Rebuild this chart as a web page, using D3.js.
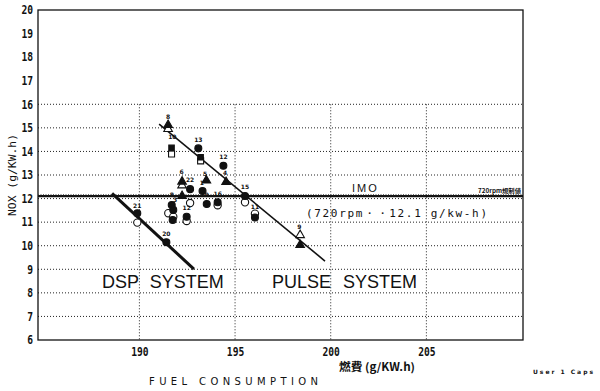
<!DOCTYPE html>
<html>
<head>
<meta charset="utf-8">
<script src="https://cdn.jsdelivr.net/npm/d3@7"></script>
<style>
body{margin:0;background:#fff;}
svg{display:block;}
</style>
</head>
<body>
<script>
// fuel consumption (g/kWh) vs NOx (g/kWh)
var yTicks=[6,7,8,9,10,11,12,13,14,15,16,17,18,19,20];
var xTicks=[190,195,200,205];
var gridY=[7,8,9,10,11,12,13,14,15,16];
var imoLimit=12.1;

var filledCircles=[[193.08,14.13],[194.39,13.39],[193.3,12.32],[192.65,12.40],[195.52,12.11],[194.09,11.84],[193.52,11.77],[196.04,11.20],[191.69,11.73],[191.77,11.52],[191.74,11.09],[192.47,11.23],[189.89,11.38],[191.41,10.15]];
var openCircles=[[195.52,11.84],[194.09,11.72],[192.65,11.81],[191.51,11.38],[191.77,11.23],[192.47,11.05],[189.89,10.98],[196.04,11.36]];
var filledTriangles=[[191.5,15.12],[194.53,12.70],[193.5,12.77],[192.23,12.72],[192.23,12.11],[198.4,10.03]];
var openTriangles=[[191.5,14.95],[192.23,12.56],[198.4,10.45]];
var filledSquares=[[191.68,14.15],[193.2,13.75]];
var openSquares=[[191.68,13.89],[193.2,13.6]];
var pointLabels=[["8",191.5,15.45],["10",191.72,14.6],["13",193.08,14.49],["12",194.39,13.78],["4",194.48,13.08],["5",193.43,13.06],["1",193.26,12.68],["22",192.65,12.79],["6",192.21,13.14],["15",195.52,12.49],["16",194.09,12.19],["9",193.52,12.15],["8",191.69,12.15],["3",191.86,11.94],["12",192.47,11.59],["11",196.04,11.66],["21",189.89,11.69],["20",191.41,10.48],["9",198.36,10.78]];
var pulseLine=[[191.03,15.16],[199.7,9.35]];
var dspLine=[[188.57,12.22],[192.85,9.01]];

var W=600,H=391;
var svg=d3.select("body").append("svg").attr("width",W).attr("height",H);

var x=d3.scaleLinear().domain([184.7,210.05]).range([38,523]);
var y=d3.scaleLinear().domain([6,20]).range([340,10]);

// grid
svg.append("g").selectAll("line").data(gridY).enter().append("line")
	.attr("x1",x.range()[0]).attr("x2",x.range()[1])
	.attr("y1",function(d){return y(d);}).attr("y2",function(d){return y(d);})
	.attr("stroke","#222").attr("stroke-width",1).attr("stroke-dasharray","1,2");
svg.append("g").selectAll("line").data(xTicks).enter().append("line")
	.attr("x1",function(d){return x(d);}).attr("x2",function(d){return x(d);})
	.attr("y1",y(16)).attr("y2",y(6))
	.attr("stroke","#222").attr("stroke-width",1).attr("stroke-dasharray","1,2");

// frame
svg.append("rect").attr("x",x.range()[0]).attr("y",y(20))
	.attr("width",x.range()[1]-x.range()[0]).attr("height",y(6)-y(20))
	.attr("fill","none").attr("stroke","#111").attr("stroke-width",1.3);

// axes
var yAxis=svg.append("g").attr("transform","translate("+(x.range()[0]-3)+",0)")
	.call(d3.axisLeft(y).tickValues(yTicks).tickSize(0).tickPadding(2));
var xAxis=svg.append("g").attr("transform","translate(0,"+(y(6)+5)+")")
	.call(d3.axisBottom(x).tickValues(xTicks).tickSize(0).tickPadding(2));
[yAxis,xAxis].forEach(function(a){
	a.select(".domain").remove();
	a.selectAll("text").attr("font-family","DejaVu Sans Mono").attr("font-size",12)
		.attr("font-weight","bold").attr("fill","#111")
		.attr("textLength",function(){return this.textContent.length*5.8;})
		.attr("lengthAdjust","spacingAndGlyphs");
});

// IMO limit
svg.append("line").attr("x1",x.range()[0]).attr("x2",x.range()[1])
	.attr("y1",y(imoLimit)).attr("y2",y(imoLimit))
	.attr("stroke","#111").attr("stroke-width",2.2);
svg.append("line").attr("x1",x.range()[0]).attr("x2",x.range()[1])
	.attr("y1",y(imoLimit)-1.5).attr("y2",y(imoLimit)-1.5)
	.attr("stroke","#444").attr("stroke-width",1).attr("stroke-dasharray","1,1.5");
svg.append("text").attr("x",352).attr("y",192).text("IMO")
	.attr("font-family","Liberation Sans").attr("font-size",11).attr("letter-spacing",2).attr("fill","#111");
svg.append("text").attr("x",306).attr("y",217).text("(720rpm\u30fb\u30fb12.1 g/kw-h)")
	.attr("font-family","DejaVu Sans Mono").attr("font-size",11).attr("fill","#111")
	.attr("textLength",181).attr("lengthAdjust","spacing");
svg.append("text").attr("x",478).attr("y",193).text("720rpm\u898f\u5236\u5024")
	.attr("font-family","Noto Sans CJK JP").attr("font-size",6).attr("font-weight","bold").attr("fill","#111")
	.attr("textLength",43).attr("lengthAdjust","spacingAndGlyphs");

// trend lines
var line=d3.line().x(function(d){return x(d[0]);}).y(function(d){return y(d[1]);});
svg.append("path").datum(pulseLine).attr("d",line).attr("stroke","#111").attr("stroke-width",1.6).attr("fill","none");
svg.append("path").datum(dspLine).attr("d",line).attr("stroke","#111").attr("stroke-width",3).attr("fill","none");

// markers
function marks(data,type,filled,size){
	svg.append("g").selectAll("path").data(data).enter().append("path")
		.attr("d",d3.symbol().type(type).size(size))
		.attr("transform",function(d){return "translate("+x(d[0])+","+y(d[1])+")";})
		.attr("fill",filled?"#111":"#fff").attr("stroke","#111").attr("stroke-width",1.1);
}
marks(openCircles,d3.symbolCircle,false,42);
marks(openSquares,d3.symbolSquare,false,36);
marks(openTriangles,d3.symbolTriangle,false,32);
marks(filledCircles,d3.symbolCircle,true,38);
marks(filledSquares,d3.symbolSquare,true,30);
marks(filledTriangles,d3.symbolTriangle,true,32);

svg.append("g").selectAll("text").data(pointLabels).enter().append("text")
	.attr("x",function(d){return x(d[1]);}).attr("y",function(d){return y(d[2])+2;})
	.attr("text-anchor","middle").text(function(d){return d[0];})
	.attr("font-family","DejaVu Sans").attr("font-size",6).attr("font-weight","bold").attr("fill","#111");

// system labels
svg.append("text").attr("x",102).attr("y",288).text("DSP SYSTEM")
	.attr("font-family","Liberation Sans").attr("font-size",18).attr("word-spacing",6).attr("fill","#111");
svg.append("text").attr("x",272).attr("y",288).text("PULSE SYSTEM")
	.attr("font-family","Liberation Sans").attr("font-size",18).attr("word-spacing",7).attr("fill","#111");

// axis titles
svg.append("text").attr("transform","translate(16,175) rotate(-90)").attr("text-anchor","middle")
	.text("NOX  (g/KW.h)").attr("font-family","DejaVu Sans Mono").attr("font-size",10).attr("fill","#111")
	.attr("textLength",82).attr("lengthAdjust","spacingAndGlyphs");
svg.append("text").attr("x",339).attr("y",371).text("\u71c3\u8cbb (g/KW.h)")
	.attr("font-family","Noto Sans CJK JP").attr("font-size",11).attr("font-weight","bold").attr("fill","#111")
	.attr("textLength",76).attr("lengthAdjust","spacingAndGlyphs");
svg.append("text").attr("x",149).attr("y",385).text("FUEL CONSUMPTION")
	.attr("font-family","DejaVu Sans").attr("font-size",10).attr("fill","#111")
	.attr("textLength",169).attr("lengthAdjust","spacing");
svg.append("text").attr("x",533).attr("y",374).text("User 1   Caps")
	.attr("font-family","DejaVu Sans").attr("font-size",6).attr("font-weight","bold").attr("fill","#111")
	.attr("textLength",60).attr("lengthAdjust","spacing");
</script>
</body>
</html>
